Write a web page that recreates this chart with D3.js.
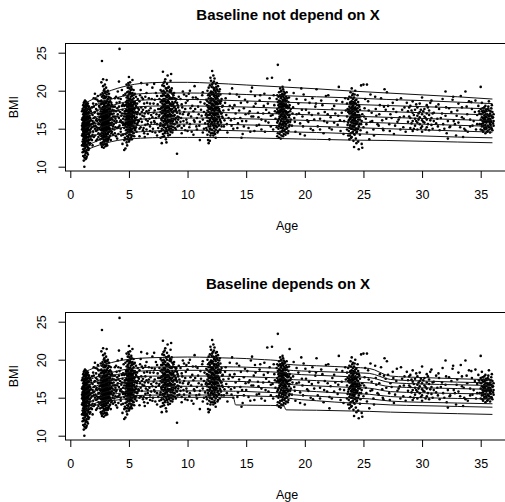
<!DOCTYPE html>
<html>
<head>
<meta charset="utf-8">
<script src="https://cdn.jsdelivr.net/npm/d3@7"></script>
<style>
  body { margin: 0; background: #fff; }
  text { font-family: "Liberation Sans", Arial, Helvetica, sans-serif; fill: #000; }
</style>
</head>
<body>
<svg id="chart" width="505" height="502"></svg>
<script>
'use strict';

var ageTicks = [0, 5, 10, 15, 20, 25, 30, 35],
    bmiTicks = [10, 15, 20, 25],
    titles   = ["Baseline not depend on X", "Baseline depends on X"];

// centile curves (0.4, 2, 10, 25, 50, 75, 90, 98, 99.6)
var centileNames = ["0.4", "2", "10", "25", "50", "75", "90", "98", "99.6"];

var knotsTop = [1.25, 2, 3, 4, 5, 6, 8, 10, 12, 15, 18, 21, 24, 27, 30, 33, 36];
var centilesTop = [
  [12.1, 12.6, 13.1, 13.45, 13.65, 13.75, 13.85, 13.85, 13.85, 13.8, 13.7, 13.6, 13.5, 13.45, 13.35, 13.25, 13.15],
  [12.6, 13.2, 13.8, 14.2, 14.45, 14.6, 14.75, 14.8, 14.8, 14.7, 14.6, 14.5, 14.35, 14.2, 14.05, 13.9, 13.8],
  [13.5, 14.05, 14.6, 15.0, 15.3, 15.45, 15.6, 15.6, 15.6, 15.5, 15.4, 15.3, 15.15, 15.0, 14.85, 14.7, 14.55],
  [14.3, 14.8, 15.35, 15.8, 16.1, 16.25, 16.4, 16.4, 16.4, 16.3, 16.2, 16.05, 15.9, 15.75, 15.6, 15.45, 15.3],
  [15.1, 15.6, 16.1, 16.6, 16.9, 17.05, 17.2, 17.2, 17.15, 17.05, 16.95, 16.8, 16.65, 16.5, 16.35, 16.2, 16.05],
  [15.9, 16.4, 16.95, 17.4, 17.75, 17.9, 18.0, 18.0, 17.95, 17.85, 17.7, 17.55, 17.4, 17.25, 17.1, 16.95, 16.8],
  [16.65, 17.2, 17.8, 18.25, 18.6, 18.75, 18.85, 18.85, 18.8, 18.65, 18.5, 18.35, 18.2, 18.05, 17.9, 17.75, 17.6],
  [17.4, 18.0, 18.65, 19.1, 19.45, 19.6, 19.7, 19.7, 19.65, 19.5, 19.35, 19.2, 19.05, 18.85, 18.7, 18.5, 18.3],
  [18.35, 18.95, 19.75, 20.3, 20.7, 20.95, 21.1, 21.1, 21.0, 20.75, 20.5, 20.25, 19.95, 19.7, 19.45, 19.2, 18.9]
];

var knotsBottom = [1.25, 2, 3, 4, 5, 6, 8, 10, 12, 13.9, 14.1, 16, 18.2, 18.4, 21, 24, 25.5, 27.3, 30, 33, 36];
var centilesBottom = [
  [13.3, 13.9, 14.4, 14.7, 14.9, 15.0, 15.05, 15.05, 15.05, 15.05, 14.05, 14.0, 13.95, 13.4, 13.35, 13.25, 13.2, 13.1, 13.0, 12.9, 12.8],
  [13.6, 14.2, 14.7, 15.0, 15.2, 15.3, 15.35, 15.35, 15.35, 15.3, 15.3, 15.2, 15.1, 15.0, 14.6, 14.3, 14.2, 14.05, 13.95, 13.85, 13.75],
  [14.1, 14.7, 15.2, 15.55, 15.75, 15.85, 15.9, 15.9, 15.9, 15.85, 15.85, 15.75, 15.6, 15.5, 15.2, 14.95, 14.85, 14.55, 14.4, 14.3, 14.2],
  [14.6, 15.2, 15.75, 16.1, 16.35, 16.45, 16.5, 16.5, 16.5, 16.45, 16.45, 16.35, 16.2, 16.1, 15.8, 15.55, 15.45, 15.15, 15.0, 14.9, 14.85],
  [15.2, 15.8, 16.4, 16.8, 17.05, 17.15, 17.2, 17.2, 17.2, 17.15, 17.15, 17.05, 16.9, 16.8, 16.55, 16.35, 16.25, 15.8, 15.65, 15.55, 15.5],
  [15.8, 16.4, 17.0, 17.45, 17.7, 17.8, 17.85, 17.85, 17.85, 17.8, 17.8, 17.7, 17.55, 17.45, 17.25, 17.05, 16.95, 16.45, 16.3, 16.2, 16.1],
  [16.4, 17.0, 17.6, 18.05, 18.35, 18.5, 18.6, 18.6, 18.6, 18.55, 18.55, 18.45, 18.3, 18.2, 17.95, 17.75, 17.65, 17.0, 16.8, 16.7, 16.6],
  [17.1, 17.6, 18.1, 18.5, 18.8, 18.95, 19.05, 19.1, 19.1, 19.05, 19.05, 18.95, 18.85, 18.65, 18.45, 18.3, 18.2, 17.4, 17.2, 17.05, 16.95],
  [18.4, 18.9, 19.4, 19.8, 20.05, 20.2, 20.3, 20.35, 20.3, 20.2, 20.2, 20.05, 19.8, 19.4, 19.2, 19.0, 18.85, 17.85, 17.65, 17.5, 17.35]
];

// observations, grouped by visit: [age, [BMI values at that age]]
var visit1 = [
  [1.0,  [12.8, 14.1, 14.9, 15.4, 16.2, 17.3]],
  [1.05, [11.9, 13.3, 14.3, 15.1, 15.7, 16.4, 17.6]],
  [1.1,  [11.4, 12.3, 13.0, 13.6, 14.0, 14.4, 14.7, 15.0, 15.2, 15.5, 15.8, 16.1, 16.5, 16.9, 17.4, 18.1]],
  [1.15, [10.8, 12.0, 12.7, 13.3, 13.9, 14.3, 14.6, 14.9, 15.1, 15.4, 15.7, 16.0, 16.4, 16.8, 17.2, 17.8, 18.4]],
  [1.2,  [10.0, 11.2, 12.1, 12.9, 13.4, 13.8, 14.2, 14.5, 14.8, 15.0, 15.3, 15.5, 15.8, 16.0, 16.3, 16.6, 17.0, 17.4, 17.9, 18.5]],
  [1.25, [11.5, 12.4, 13.1, 13.6, 14.1, 14.4, 14.7, 15.0, 15.2, 15.5, 15.7, 16.0, 16.3, 16.6, 17.0, 17.5, 18.0, 18.7]],
  [1.3,  [11.0, 11.8, 12.6, 13.2, 13.7, 14.0, 14.3, 14.6, 14.9, 15.1, 15.4, 15.6, 15.9, 16.2, 16.4, 16.8, 17.2, 17.6, 18.2, 18.6]],
  [1.35, [11.1, 12.0, 12.8, 13.4, 13.8, 14.2, 14.5, 14.8, 15.0, 15.3, 15.6, 15.9, 16.2, 16.5, 16.9, 17.3, 17.8, 18.4]],
  [1.4,  [11.3, 12.2, 12.9, 13.5, 13.9, 14.3, 14.6, 14.9, 15.2, 15.4, 15.7, 16.0, 16.3, 16.7, 17.1, 17.5, 18.0, 18.4]],
  [1.45, [11.8, 12.7, 13.4, 13.9, 14.3, 14.7, 15.0, 15.3, 15.6, 15.9, 16.2, 16.6, 17.0, 17.5, 18.1]],
  [1.5,  [11.6, 12.5, 13.3, 13.9, 14.4, 14.8, 15.1, 15.4, 15.7, 16.1, 16.5, 17.0, 17.6, 18.3]],
  [1.55, [12.2, 13.1, 13.8, 14.4, 14.9, 15.3, 15.7, 16.1, 16.6, 17.2, 17.9]],
  [1.6,  [12.4, 13.5, 14.2, 14.8, 15.3, 15.8, 16.4, 17.1, 17.9]],
  [1.65, [12.9, 14.0, 14.8, 15.4, 16.0, 16.7, 17.5]],
  [1.7,  [13.1, 14.5, 15.5, 16.4, 17.6]],
  [1.75, [13.6, 15.0, 16.1, 17.3]],
  [1.8,  [14.0, 15.6, 17.0]]
];
var visit2 = [
  [2.5,  [14.2, 15.6, 16.5, 17.8]],
  [2.55, [13.6, 14.9, 16.0, 17.0, 18.6]],
  [2.6,  [13.1, 14.3, 15.2, 15.9, 16.6, 17.3, 18.2, 19.5]],
  [2.65, [12.9, 14.0, 14.8, 15.5, 16.2, 16.8, 17.6, 18.7, 21.1]],
  [2.7,  [12.6, 13.7, 14.5, 15.1, 15.6, 16.0, 16.5, 17.0, 17.6, 18.3, 19.2, 23.9]],
  [2.75, [13.2, 14.1, 14.8, 15.4, 15.9, 16.3, 16.7, 17.2, 17.8, 18.5, 19.7]],
  [2.8,  [12.9, 13.8, 14.4, 14.9, 15.3, 15.7, 16.1, 16.4, 16.8, 17.3, 17.8, 18.5, 19.4, 20.6, 21.5]],
  [2.85, [12.5, 13.5, 14.2, 14.7, 15.1, 15.5, 15.9, 16.2, 16.6, 17.0, 17.5, 18.2, 19.0, 20.0]],
  [2.9,  [13.3, 14.0, 14.6, 15.0, 15.4, 15.8, 16.1, 16.4, 16.7, 17.1, 17.5, 18.0, 18.6, 19.3, 20.2]],
  [2.95, [13.0, 13.9, 14.5, 15.1, 15.5, 15.9, 16.3, 16.7, 17.2, 17.7, 18.3, 19.0, 19.7, 20.8]],
  [3.0,  [12.7, 13.6, 14.3, 14.8, 15.2, 15.6, 16.0, 16.3, 16.6, 17.0, 17.4, 17.9, 18.5, 19.1, 19.9]],
  [3.05, [13.4, 14.2, 14.9, 15.4, 15.8, 16.2, 16.5, 16.9, 17.3, 17.8, 18.4, 19.2, 20.4]],
  [3.1,  [13.0, 14.0, 14.7, 15.2, 15.6, 16.0, 16.3, 16.7, 17.1, 17.5, 18.0, 18.7, 19.5, 21.4]],
  [3.15, [12.8, 13.7, 14.4, 15.0, 15.5, 15.9, 16.4, 16.8, 17.3, 17.9, 18.6, 19.8]],
  [3.2,  [13.4, 14.3, 14.9, 15.4, 15.8, 16.2, 16.6, 17.0, 17.5, 18.1, 18.9, 20.0]],
  [3.25, [13.6, 14.5, 15.1, 15.6, 16.0, 16.5, 17.0, 17.6, 18.3, 19.2]],
  [3.3,  [13.8, 14.6, 15.2, 15.7, 16.2, 16.6, 17.1, 17.7, 18.5, 19.6]],
  [3.35, [14.0, 14.9, 15.5, 16.1, 16.7, 17.3, 18.1, 19.1]],
  [3.4,  [14.1, 15.0, 15.7, 16.3, 16.9, 17.6, 18.6]],
  [3.45, [13.5, 14.7, 15.5, 16.2, 17.0, 17.9, 19.0]],
  [3.5,  [14.4, 15.5, 16.4, 17.3, 18.4]],
  [3.55, [14.6, 15.8, 16.9, 18.1]],
  [3.6,  [15.0, 16.2, 17.5]],
  [3.65, [14.2, 15.3, 16.6, 17.9]],
  [3.7,  [15.6, 17.0]],
  [3.75, [16.0, 17.4]]
];
var visit3 = [
  [4.6,  [12.2, 15.1, 16.6, 18.0]],
  [4.65, [13.8, 15.6, 17.3]],
  [4.7,  [12.4, 14.3, 15.4, 16.2, 17.0, 18.1, 19.6]],
  [4.75, [13.6, 14.8, 15.8, 16.6, 17.4, 18.5]],
  [4.8,  [13.2, 14.4, 15.2, 15.8, 16.4, 16.9, 17.5, 18.2, 19.1, 20.8]],
  [4.85, [12.8, 14.0, 14.9, 15.6, 16.2, 16.8, 17.3, 17.9, 18.7, 19.8]],
  [4.9,  [13.6, 14.6, 15.3, 15.8, 16.2, 16.6, 17.0, 17.4, 17.9, 18.5, 19.3, 20.4]],
  [4.95, [13.9, 14.9, 15.5, 16.0, 16.4, 16.9, 17.3, 17.8, 18.3, 19.0, 19.9, 21.0]],
  [5.0,  [13.3, 14.2, 14.9, 15.5, 16.0, 16.4, 16.8, 17.2, 17.6, 18.1, 18.7, 19.5, 20.7, 21.8]],
  [5.05, [13.5, 14.5, 15.2, 15.7, 16.1, 16.5, 16.9, 17.3, 17.7, 18.2, 18.8, 19.6, 20.3]],
  [5.1,  [13.7, 14.7, 15.3, 15.8, 16.2, 16.6, 17.0, 17.4, 17.8, 18.3, 18.9, 19.8, 21.1]],
  [5.15, [14.2, 15.0, 15.6, 16.1, 16.6, 17.0, 17.5, 18.0, 18.5, 19.2, 20.1]],
  [5.2,  [13.9, 14.8, 15.5, 16.0, 16.5, 16.9, 17.3, 17.7, 18.2, 18.8, 19.6, 20.5]],
  [5.25, [13.6, 14.6, 15.3, 15.9, 16.4, 16.9, 17.4, 17.9, 18.5, 19.3, 20.2]],
  [5.3,  [14.1, 15.0, 15.7, 16.2, 16.7, 17.1, 17.6, 18.1, 18.8, 19.7, 21.4]],
  [5.35, [14.5, 15.4, 16.0, 16.6, 17.2, 17.8, 18.5, 19.4]],
  [5.4,  [14.4, 15.3, 16.0, 16.6, 17.1, 17.6, 18.2, 19.0, 20.1]],
  [5.45, [14.0, 15.1, 15.9, 16.7, 17.5, 18.4, 19.5]],
  [5.5,  [14.8, 15.7, 16.4, 17.0, 17.7, 18.5, 19.6]],
  [5.55, [15.0, 16.1, 17.2, 18.3]],
  [5.6,  [15.2, 16.2, 17.1, 18.0, 19.2]],
  [5.65, [14.6, 16.5, 17.8]],
  [5.7,  [15.6, 16.9, 18.3]],
  [5.75, [15.8, 17.2, 18.9]],
  [5.8,  [16.1, 17.7]]
];
var visit4 = [
  [7.6,  [14.6, 16.8, 18.9]],
  [7.65, [15.4, 17.6]],
  [7.7,  [13.8, 15.7, 17.2, 18.5, 20.1]],
  [7.75, [14.7, 16.3, 17.7, 19.3]],
  [7.8,  [13.1, 15.0, 16.1, 17.0, 17.8, 18.7, 19.9]],
  [7.85, [13.9, 15.4, 16.5, 17.4, 18.3, 19.3, 20.7]],
  [7.9,  [14.3, 15.5, 16.4, 17.1, 17.8, 18.6, 19.6, 22.5]],
  [7.95, [14.8, 15.9, 16.7, 17.4, 18.1, 18.9, 20.0, 21.0]],
  [8.0,  [14.0, 15.2, 16.0, 16.7, 17.3, 17.9, 18.6, 19.4, 20.6]],
  [8.05, [14.4, 15.5, 16.3, 17.0, 17.6, 18.2, 18.9, 19.8, 21.2]],
  [8.1,  [14.6, 15.6, 16.3, 16.9, 17.5, 18.1, 18.8, 19.7, 21.5]],
  [8.15, [13.6, 15.1, 16.0, 16.7, 17.3, 17.9, 18.5, 19.3, 20.3]],
  [8.2,  [13.2, 14.9, 15.8, 16.5, 17.1, 17.7, 18.4, 19.2, 20.3]],
  [8.25, [14.7, 15.7, 16.5, 17.2, 17.8, 18.4, 19.1, 20.0, 20.9]],
  [8.3,  [14.4, 15.4, 16.2, 16.8, 17.4, 18.0, 18.7, 19.5, 22.0]],
  [8.35, [14.1, 15.2, 16.0, 16.7, 17.3, 17.9, 18.6, 19.4, 20.4]],
  [8.4,  [14.8, 15.9, 16.6, 17.2, 17.8, 18.5, 19.3, 20.5]],
  [8.45, [15.0, 16.1, 16.9, 17.6, 18.3, 19.0, 19.9]],
  [8.5,  [14.2, 15.3, 16.1, 16.9, 17.6, 18.3, 19.1, 20.1]],
  [8.55, [14.6, 15.7, 16.6, 17.4, 18.1, 18.9, 19.8, 21.3]],
  [8.6,  [15.0, 16.0, 16.8, 17.5, 18.2, 19.0, 20.0, 22.2]],
  [8.65, [15.3, 16.3, 17.2, 18.0, 18.9, 20.3]],
  [8.7,  [14.5, 15.7, 16.7, 17.6, 18.5, 19.6]],
  [8.75, [14.8, 16.0, 17.1, 18.1, 19.1]],
  [8.8,  [15.2, 16.3, 17.3, 18.3, 19.4]],
  [8.85, [15.6, 16.7, 17.8, 19.7]],
  [8.9,  [15.6, 16.8, 17.9, 19.0]],
  [8.95, [15.1, 16.2, 17.4, 18.5]],
  [9.0,  [14.9, 16.4, 17.6, 18.8]],
  [9.05, [15.9, 17.3, 18.9]],
  [9.1,  [11.7, 15.8, 17.1, 18.4]],
  [9.15, [15.3, 16.6, 18.1]],
  [9.2,  [16.2, 17.8]],
  [9.25, [16.5, 19.2]],
  [9.3,  [15.4, 17.4]]
];
var visit5 = [
  [11.6,  [15.1, 17.0, 18.8]],
  [11.65, [14.8, 16.5, 18.1]],
  [11.7,  [14.2, 16.0, 17.4, 18.6, 20.0]],
  [11.75, [13.5, 15.6, 16.8, 17.8, 19.4]],
  [11.8,  [13.1, 15.3, 16.4, 17.2, 18.0, 19.0, 20.4]],
  [11.85, [14.6, 15.9, 16.8, 17.6, 18.4, 19.6]],
  [11.9,  [13.4, 15.0, 16.1, 16.9, 17.6, 18.4, 19.3, 20.7]],
  [11.95, [14.1, 15.3, 16.3, 17.1, 17.8, 18.7, 19.7, 21.7]],
  [12.0,  [14.4, 15.6, 16.4, 17.1, 17.7, 18.3, 19.0, 19.9, 21.3]],
  [12.05, [14.9, 15.9, 16.7, 17.4, 18.0, 18.7, 19.5, 20.5]],
  [12.1,  [14.8, 15.8, 16.5, 17.1, 17.7, 18.3, 18.9, 19.7, 20.8, 22.6]],
  [12.15, [14.4, 15.5, 16.3, 17.0, 17.6, 18.2, 18.9, 19.8, 21.0]],
  [12.2,  [14.1, 15.4, 16.2, 16.9, 17.5, 18.1, 18.8, 19.5, 20.4, 22.0]],
  [12.25, [15.1, 16.0, 16.8, 17.4, 18.0, 18.6, 19.3, 20.1, 21.2]],
  [12.3,  [14.6, 15.7, 16.5, 17.2, 17.9, 18.6, 19.4, 20.3, 21.6]],
  [12.35, [14.3, 15.4, 16.3, 17.0, 17.7, 18.4, 19.1, 20.0]],
  [12.4,  [13.8, 14.9, 16.0, 16.8, 17.5, 18.2, 18.9, 19.8, 20.9]],
  [12.45, [15.3, 16.3, 17.1, 17.8, 18.5, 19.4, 20.5]],
  [12.5,  [15.2, 16.2, 17.0, 17.7, 18.4, 19.2, 20.2, 21.0]],
  [12.55, [14.5, 15.7, 16.6, 17.4, 18.2, 19.0, 20.0]],
  [12.6,  [14.7, 15.9, 16.9, 17.8, 18.7, 19.6, 20.6]],
  [12.65, [15.4, 16.5, 17.4, 18.3, 19.3]],
  [12.7,  [15.5, 16.6, 17.6, 18.7, 19.9]],
  [12.75, [14.9, 16.2, 17.3, 18.5, 20.2]],
  [12.8,  [16.0, 17.2, 18.3, 19.5]],
  [12.85, [15.8, 17.0, 18.6]],
  [12.9,  [15.3, 17.0, 18.9]],
  [12.95, [16.6, 17.9]],
  [13.0,  [16.4, 18.0]]
];
var visit6 = [
  [17.6,  [15.2, 17.1, 18.9]],
  [17.65, [14.0, 15.8, 17.6, 19.4]],
  [17.7,  [14.4, 16.0, 17.3, 18.5, 23.4]],
  [17.75, [15.0, 16.2, 17.1, 18.1, 19.2]],
  [17.8,  [13.8, 15.3, 16.3, 17.0, 17.8, 18.7, 19.8]],
  [17.85, [14.3, 15.6, 16.6, 17.4, 18.3, 19.3]],
  [17.9,  [14.6, 15.7, 16.5, 17.2, 17.9, 18.6, 19.4, 20.3]],
  [17.95, [13.7, 15.1, 16.0, 16.8, 17.5, 18.2, 19.0, 19.9]],
  [18.0,  [14.1, 15.2, 16.0, 16.7, 17.3, 17.9, 18.5, 19.2, 20.0]],
  [18.05, [14.6, 15.5, 16.3, 17.0, 17.7, 18.4, 19.5]],
  [18.1,  [14.8, 15.6, 16.3, 16.9, 17.5, 18.1, 18.8, 19.6, 20.5]],
  [18.15, [14.0, 15.1, 15.9, 16.6, 17.2, 17.9, 18.6, 19.3, 20.2]],
  [18.2,  [14.3, 15.4, 16.2, 16.9, 17.6, 18.3, 19.1, 19.9]],
  [18.25, [14.7, 15.7, 16.5, 17.3, 18.0, 18.8, 19.5]],
  [18.3,  [14.9, 15.9, 16.7, 17.4, 18.1, 18.9, 19.7]],
  [18.35, [14.2, 15.3, 16.3, 17.1, 17.9, 18.6]],
  [18.4,  [14.5, 15.6, 16.5, 17.3, 18.2, 19.2]],
  [18.45, [15.0, 16.0, 16.9, 17.8, 18.7, 19.8]],
  [18.5,  [15.1, 16.2, 17.1, 18.0, 19.0]],
  [18.55, [14.4, 15.8, 16.8, 17.7]],
  [18.6,  [14.7, 16.0, 17.2, 18.5]],
  [18.65, [15.3, 16.5, 17.8, 19.1]],
  [18.7,  [15.5, 16.8, 18.1, 21.4]],
  [18.75, [15.9, 17.3]],
  [18.8,  [16.2, 17.6]]
];
var visit7 = [
  [23.6,  [14.9, 16.6, 18.3]],
  [23.65, [15.5, 17.6]],
  [23.7,  [14.1, 15.8, 17.2, 18.9]],
  [23.75, [14.7, 16.1, 17.5]],
  [23.8,  [13.6, 15.1, 16.2, 17.0, 17.9, 19.2]],
  [23.85, [14.1, 15.4, 16.4, 17.3, 18.4]],
  [23.9,  [14.4, 15.5, 16.3, 17.0, 17.7, 18.5, 19.8]],
  [23.95, [13.8, 15.0, 15.9, 16.6, 17.4, 18.2, 19.1]],
  [24.0,  [13.9, 15.0, 15.8, 16.5, 17.1, 17.8, 18.6, 20.3]],
  [24.05, [14.5, 15.3, 16.1, 16.8, 17.5, 18.3, 19.4]],
  [24.1,  [14.6, 15.4, 16.1, 16.7, 17.3, 18.0, 18.9, 19.6]],
  [24.15, [13.4, 14.9, 15.7, 16.4, 17.0, 17.7, 18.5]],
  [24.2,  [12.6, 14.3, 15.2, 16.0, 16.7, 17.4, 18.2, 19.1]],
  [24.25, [14.2, 15.4, 16.2, 16.9, 17.6, 18.4, 19.5]],
  [24.3,  [14.8, 15.7, 16.4, 17.1, 17.8, 18.7, 20.0]],
  [24.35, [13.7, 15.0, 16.0, 16.8, 17.5, 18.3]],
  [24.4,  [13.1, 14.5, 15.6, 16.6, 17.6, 18.8]],
  [24.45, [14.6, 15.7, 16.5, 17.3, 18.1]],
  [24.5,  [14.9, 15.9, 16.8, 17.7, 19.4]],
  [24.55, [13.3, 15.0, 16.2, 17.2, 18.5]],
  [24.6,  [12.3, 15.3, 16.5, 18.1]],
  [24.65, [15.6, 16.8, 17.9]],
  [24.7,  [14.2, 16.2, 17.5]],
  [24.75, [14.8, 16.6]],
  [24.8,  [15.6, 20.7]],
  [24.85, [13.0, 16.0]],
  [24.9,  [12.5, 16.9]]
];
var visit8 = [
  [28.8, [15.9, 17.3]],
  [28.9, [16.6, 17.8]],
  [29.0, [15.1, 16.4, 18.0]],
  [29.1, [15.7, 17.4]],
  [29.2, [14.7, 16.0, 17.1, 18.6]],
  [29.3, [15.0, 16.8]],
  [29.4, [15.4, 16.3, 17.5]],
  [29.5, [16.0, 18.2]],
  [29.6, [14.9, 15.8, 16.7, 17.8]],
  [29.7, [16.2, 17.0]],
  [29.8, [15.6, 16.5, 17.2, 18.3]],
  [29.9, [15.1, 17.5]],
  [30.0, [14.6, 15.3, 16.1, 16.9, 19.1]],
  [30.1, [15.9, 17.3]],
  [30.2, [15.8, 16.6, 17.6]],
  [30.3, [14.9, 16.4]],
  [30.4, [15.2, 16.2, 17.0, 18.1]],
  [30.5, [15.6, 17.8]],
  [30.6, [14.8, 16.8, 17.4]],
  [30.7, [16.1, 18.4]],
  [30.8, [15.5, 16.4, 18.7]],
  [30.9, [15.0, 17.0]],
  [31.0, [16.0, 17.1]],
  [31.2, [15.7, 17.9]]
];
var visit9 = [
  [34.9,  [15.6, 17.0]],
  [35.0,  [14.9, 16.2, 17.6, 20.5]],
  [35.05, [15.6, 16.9]],
  [35.1,  [15.3, 16.5, 17.3, 18.4]],
  [35.15, [14.8, 16.0, 17.7]],
  [35.2,  [14.6, 15.7, 16.4, 17.1]],
  [35.25, [15.4, 16.2, 17.4]],
  [35.3,  [15.1, 15.9, 16.7, 17.8]],
  [35.35, [14.9, 16.4, 17.2]],
  [35.4,  [14.4, 15.5, 16.2, 16.9, 18.0]],
  [35.45, [15.2, 15.9, 16.6, 17.5]],
  [35.5,  [15.0, 15.8, 16.5, 17.3]],
  [35.55, [14.6, 16.0, 16.9]],
  [35.6,  [14.7, 15.4, 16.1, 16.8, 17.6]],
  [35.65, [15.3, 16.3, 17.9]],
  [35.7,  [15.2, 16.0, 16.6, 17.4, 18.6]],
  [35.75, [14.9, 15.8, 16.8]],
  [35.8,  [14.5, 15.6, 16.3, 17.0]],
  [35.85, [15.5, 16.1, 17.3]],
  [35.9,  [15.1, 15.9, 16.7, 17.7]],
  [35.95, [15.0, 16.6, 18.1]],
  [36.0,  [14.8, 16.4, 17.2]],
  [36.05, [15.7, 16.5]],
  [36.1,  [15.4, 16.0, 16.9]]
];

// observations between the visit clusters: [age, BMI]
var betweenVisits = [
  [1.9, 14.2], [1.9, 16.8], [2.0, 15.3], [2.0, 17.9], [2.1, 19.6], [2.2, 13.4], [2.2, 16.1], [2.3, 14.8],
  [2.3, 17.4], [2.4, 15.6], [2.4, 18.6], [2.1, 15.0], [1.9, 12.8], [2.0, 16.4], [2.2, 18.2], [2.4, 13.9],
  [2.3, 16.0], [2.1, 17.2], [2.4, 16.9], [1.95, 15.7], [2.25, 15.2], [2.35, 19.3],
  [1.85, 15.2], [1.85, 13.5], [1.85, 17.8], [1.9, 16.0], [1.95, 14.6], [1.95, 18.3], [2.0, 13.9], [2.05, 15.8],
  [2.05, 17.1], [2.1, 14.1], [2.1, 16.5], [2.15, 15.4], [2.15, 18.9], [2.2, 14.7], [2.2, 17.6], [2.25, 16.3],
  [2.3, 13.6], [2.3, 18.8], [2.35, 15.0], [2.35, 17.0], [2.4, 14.4], [2.45, 16.2], [2.45, 18.0], [2.45, 15.1],
  [2.0, 19.0],
  [3.8, 14.4], [3.8, 17.9], [3.9, 15.8], [3.9, 19.2], [4.0, 16.6], [4.0, 13.7], [4.1, 17.4], [4.1, 15.2],
  [4.2, 25.5], [4.2, 18.5], [4.3, 16.1], [4.3, 14.6], [4.4, 17.0], [4.4, 20.1], [4.5, 15.5], [4.5, 18.2],
  [3.85, 16.3], [4.05, 19.9], [4.25, 15.9], [4.45, 13.0], [4.15, 21.2],
  [3.75, 14.9], [3.8, 16.6], [3.8, 19.0], [3.85, 15.2], [3.9, 17.3], [3.9, 14.0], [3.95, 16.0], [3.95, 18.4],
  [4.0, 15.1], [4.0, 17.7], [4.05, 16.9], [4.1, 14.3], [4.1, 19.0], [4.15, 16.4], [4.15, 17.9], [4.2, 15.4],
  [4.25, 17.2], [4.3, 18.9], [4.3, 15.0], [4.35, 16.7], [4.35, 14.1], [4.4, 18.0], [4.4, 15.8], [4.45, 17.5],
  [4.5, 16.3], [4.5, 14.2], [4.55, 19.4], [4.55, 15.7], [4.6, 17.0], [4.6, 13.5],
  [5.9, 15.0], [5.9, 18.6], [6.0, 16.3], [6.0, 20.1], [6.1, 17.2], [6.2, 14.8], [6.2, 18.9], [6.3, 16.6],
  [6.4, 15.5], [6.4, 17.8], [6.5, 19.7], [6.6, 16.0], [6.6, 14.3], [6.7, 17.4], [6.8, 18.3], [6.8, 15.3],
  [6.9, 16.8], [7.0, 20.4], [7.0, 14.6], [7.1, 17.1], [7.2, 15.8], [7.2, 18.8], [7.3, 16.4], [7.4, 19.3],
  [7.4, 14.1], [7.5, 17.6], [6.05, 21.0], [6.55, 20.8], [7.15, 20.9], [6.35, 13.9],
  [5.85, 16.0], [5.85, 17.5], [5.9, 14.0], [5.95, 16.9], [5.95, 19.4], [6.0, 15.2], [6.05, 17.8], [6.1, 15.9],
  [6.1, 19.1], [6.15, 16.7], [6.2, 17.5], [6.25, 15.1], [6.3, 18.3], [6.3, 14.4], [6.35, 17.0], [6.4, 19.2],
  [6.45, 16.2], [6.5, 14.9], [6.5, 17.3], [6.55, 18.4], [6.6, 15.6], [6.65, 17.0], [6.7, 19.0], [6.75, 16.3],
  [6.8, 14.7], [6.85, 17.7], [6.9, 15.8], [6.95, 18.9], [7.0, 16.5], [7.05, 15.0], [7.1, 18.3], [7.15, 16.0],
  [7.2, 17.4], [7.25, 14.5], [7.3, 19.7], [7.35, 16.9], [7.4, 15.6], [7.45, 18.2], [7.5, 15.1], [7.55, 16.6],
  [9.4, 15.9], [9.5, 18.2], [9.5, 14.4], [9.6, 16.9], [9.7, 19.5], [9.7, 15.4], [9.8, 17.6], [9.9, 16.2],
  [10.0, 14.7], [10.0, 18.7], [10.1, 17.0], [10.2, 15.6], [10.2, 20.0], [10.3, 16.6], [10.4, 18.0], [10.5, 14.2],
  [10.5, 17.3], [10.6, 15.9], [10.7, 19.1], [10.8, 16.4], [10.8, 14.9], [10.9, 17.9], [11.0, 15.4], [11.1, 18.5],
  [11.2, 16.7], [11.3, 14.5], [11.3, 19.8], [11.4, 17.2], [11.5, 15.7], [10.6, 20.6], [11.05, 13.5],
  [9.35, 17.0], [9.4, 18.9], [9.45, 16.4], [9.5, 15.1], [9.55, 17.8], [9.6, 19.9], [9.65, 16.0], [9.7, 17.2],
  [9.8, 14.8], [9.85, 18.4], [9.9, 19.3], [9.95, 15.8], [10.05, 16.8], [10.1, 19.6], [10.15, 15.2], [10.25, 17.7],
  [10.35, 14.6], [10.45, 19.1], [10.55, 16.1], [10.65, 17.6], [10.75, 15.3], [10.85, 18.9], [10.95, 16.9], [11.05, 15.9],
  [11.15, 17.5], [11.25, 19.4], [11.3, 16.2], [11.4, 15.0], [11.45, 18.3], [11.55, 16.8],
  [13.1, 15.3], [13.2, 18.4], [13.3, 16.8], [13.4, 14.5], [13.5, 17.5], [13.6, 19.6], [13.7, 16.1], [13.9, 15.0],
  [14.0, 18.1], [14.1, 17.0], [14.3, 15.7], [14.4, 19.2], [14.5, 16.4], [14.7, 14.3], [14.8, 17.7], [14.9, 18.8],
  [15.0, 16.0], [15.2, 15.1], [15.3, 17.3], [15.4, 19.9], [15.6, 16.6], [15.7, 14.7], [15.8, 18.3], [16.0, 17.1],
  [16.1, 15.5], [16.2, 19.4], [16.3, 16.2], [16.5, 18.0], [16.6, 14.6], [16.7, 17.5], [16.8, 21.6], [16.9, 15.8],
  [17.0, 19.0], [17.1, 16.7], [17.2, 21.7], [17.3, 14.9], [17.4, 18.1], [17.5, 16.3], [13.8, 20.3], [15.5, 20.4],
  [14.6, 13.8],
  [13.05, 17.4], [13.15, 16.1], [13.25, 19.0], [13.35, 15.6], [13.5, 16.4], [13.6, 18.0], [13.75, 15.4], [13.85, 17.7],
  [14.0, 16.3], [14.2, 19.5], [14.25, 15.1], [14.4, 17.4], [14.55, 18.4], [14.65, 16.0], [14.8, 15.3], [14.95, 16.9],
  [15.1, 18.5], [15.2, 17.0], [15.35, 14.6], [15.45, 16.6], [15.65, 17.9], [15.75, 19.3], [15.9, 15.4], [16.05, 16.5],
  [16.15, 18.7], [16.3, 14.9], [16.45, 17.0], [16.55, 19.6], [16.65, 16.0], [16.85, 18.3], [16.95, 17.1], [17.1, 15.3],
  [17.25, 16.8], [17.35, 19.4], [17.45, 17.3],
  [18.9, 15.4], [19.0, 17.8], [19.1, 16.4], [19.2, 14.6], [19.3, 18.9], [19.5, 17.0], [19.6, 15.7], [19.8, 16.6],
  [19.9, 19.5], [20.0, 14.1], [20.1, 17.5], [20.3, 15.9], [20.4, 18.4], [20.6, 16.8], [20.7, 14.8], [20.9, 17.9],
  [21.0, 20.2], [21.1, 15.3], [21.3, 16.3], [21.4, 18.7], [21.6, 14.4], [21.7, 17.2], [21.9, 15.8], [22.0, 19.4],
  [22.2, 16.5], [22.3, 14.9], [22.5, 18.0], [22.6, 17.0], [22.8, 15.5], [22.9, 20.5], [23.0, 16.1], [23.2, 18.5],
  [23.3, 14.3], [23.5, 17.4], [19.7, 20.3], [22.1, 13.6],
  [18.95, 17.0], [19.05, 19.7], [19.15, 15.9], [19.3, 16.9], [19.45, 18.3], [19.6, 14.3], [19.75, 17.5], [19.85, 15.3],
  [20.05, 18.8], [20.2, 16.1], [20.35, 17.1], [20.5, 15.0], [20.65, 19.0], [20.8, 16.2], [20.95, 18.3], [21.15, 17.0],
  [21.3, 14.9], [21.5, 18.1], [21.65, 16.0], [21.8, 19.3], [21.95, 16.9], [22.1, 15.1], [22.35, 17.6], [22.5, 15.8],
  [22.7, 18.7], [22.85, 16.7], [23.05, 14.7], [23.15, 17.1], [23.35, 16.0], [23.45, 19.0],
  [25.0, 20.8], [25.0, 15.2], [25.1, 17.7], [25.2, 16.3], [25.3, 20.8], [25.3, 14.5], [25.4, 18.6], [25.6, 15.9],
  [25.7, 17.1], [25.9, 14.1], [26.0, 19.2], [26.1, 16.7], [26.3, 15.4], [26.4, 18.1], [26.6, 16.1], [26.7, 14.8],
  [26.9, 17.5], [27.0, 19.8], [27.2, 15.6], [27.3, 16.9], [27.5, 18.4], [27.6, 14.3], [27.8, 17.2], [27.9, 15.9],
  [28.1, 16.5], [28.2, 19.0], [28.4, 15.2], [28.5, 17.8], [28.6, 14.6], [26.8, 20.2], [25.5, 13.6],
  [25.05, 16.6], [25.15, 18.9], [25.25, 15.6], [25.45, 17.4], [25.6, 19.5], [25.75, 16.0], [25.85, 14.9], [26.05, 17.6],
  [26.2, 15.6], [26.35, 16.9], [26.5, 19.0], [26.65, 15.0], [26.75, 17.9], [26.95, 16.3], [27.1, 18.0], [27.25, 14.7],
  [27.4, 16.4], [27.55, 17.6], [27.7, 15.4], [27.85, 18.8], [28.0, 16.2], [28.15, 14.9], [28.3, 17.5], [28.45, 16.6],
  [28.7, 18.4],
  [31.3, 16.3], [31.4, 18.2], [31.5, 14.8], [31.7, 17.0], [31.8, 15.6], [32.0, 19.9], [32.0, 16.7], [32.1, 14.4],
  [32.3, 17.7], [32.4, 15.3], [32.6, 18.8], [32.7, 16.0], [32.9, 14.1], [33.0, 17.4], [33.1, 15.8], [33.3, 19.3],
  [33.4, 16.5], [33.6, 15.0], [33.7, 19.9], [33.8, 17.9], [33.9, 14.6], [34.1, 16.2], [34.2, 18.5], [34.3, 15.4],
  [34.5, 17.2], [34.6, 14.9], [34.7, 16.8], [34.8, 18.0], [32.2, 13.7], [33.5, 13.9],
  [31.35, 15.3], [31.45, 17.6], [31.6, 16.4], [31.75, 18.9], [31.9, 15.0], [32.05, 17.8], [32.2, 16.0], [32.35, 15.2],
  [32.5, 17.2], [32.65, 19.2], [32.8, 15.6], [32.95, 16.7], [33.1, 18.3], [33.25, 15.2], [33.4, 17.8], [33.55, 16.3],
  [33.7, 14.8], [33.85, 16.9], [34.0, 18.6], [34.1, 15.3], [34.25, 17.6], [34.4, 16.0], [34.55, 18.7], [34.7, 15.6],
  [34.85, 17.3]
];

var points = [];
[visit1, visit2, visit3, visit4, visit5, visit6, visit7, visit8, visit9].forEach(function(visit) {
    visit.forEach(function(col) {
        col[1].forEach(function(b) { points.push([col[0], b]); });
    });
});
points = points.concat(betweenVisits);

var svg = d3.select("#chart");

var boxLeft = 65.5, boxRight = 510, boxHeight = 127.5;

var x = d3.scaleLinear().domain([0, 35]).range([70.3, 480.7]);

function drawPanel(i, title, knots, curves) {
    var top    = 43.5 + 269 * i,
        bottom = top + boxHeight,
        y      = d3.scaleLinear().domain([10, 25]).range([bottom - 4.3, top + 9.2]),
        g      = svg.append("g");

    // points first, centile curves on top
    g.append("g").selectAll("circle")
        .data(points)
        .join("circle")
            .attr("cx", function(d) { return x(d[0]); })
            .attr("cy", function(d) { return y(d[1]); })
            .attr("r", 1.3)
            .attr("fill", "#000");

    var line = d3.line()
        .x(function(d, j) { return x(knots[j]); })
        .y(function(d) { return y(d); })
        .curve(d3.curveMonotoneX);

    g.append("g").selectAll("path")
        .data(curves)
        .join("path")
            .attr("d", line)
            .attr("fill", "none")
            .attr("stroke", "#111")
            .attr("stroke-width", 1);

    // box
    g.append("rect")
        .attr("x", boxLeft).attr("y", top)
        .attr("width", boxRight - boxLeft).attr("height", boxHeight)
        .attr("fill", "none").attr("stroke", "#000").attr("stroke-width", 1);

    // x axis
    g.append("g")
        .attr("transform", "translate(0," + bottom + ")")
        .call(d3.axisBottom(x).tickValues(ageTicks).tickSize(7).tickPadding(12.4))
        .call(function(a) {
            a.select(".domain").remove();
            a.selectAll("text").attr("font-size", 12.5).attr("font-family", null);
        });

    // y axis, labels parallel to the axis like R
    g.append("g")
        .attr("transform", "translate(" + boxLeft + ",0)")
        .call(d3.axisLeft(y).tickValues(bmiTicks).tickSize(7))
        .call(function(a) {
            a.select(".domain").remove();
            a.selectAll("text")
                .attr("transform", "rotate(-90)")
                .attr("x", 0).attr("y", -24)
                .attr("dy", "0.35em")
                .attr("text-anchor", "middle")
                .attr("font-size", 12.5).attr("font-family", null);
        });

    g.append("text")
        .attr("x", 288).attr("y", top - 29)
        .attr("dy", "0.35em")
        .attr("text-anchor", "middle")
        .attr("font-size", 15).attr("font-weight", "bold")
        .text(title);

    g.append("text")
        .attr("x", 287).attr("y", bottom + 54.5)
        .attr("dy", "0.35em")
        .attr("text-anchor", "middle")
        .attr("font-size", 12.5)
        .text("Age");

    var midY = (top + bottom) / 2;
    g.append("text")
        .attr("transform", "translate(14," + midY + ") rotate(-90)")
        .attr("dy", "0.35em")
        .attr("text-anchor", "middle")
        .attr("font-size", 12.5)
        .text("BMI");
}

drawPanel(0, titles[0], knotsTop, centilesTop);
drawPanel(1, titles[1], knotsBottom, centilesBottom);
</script>
</body>
</html>
